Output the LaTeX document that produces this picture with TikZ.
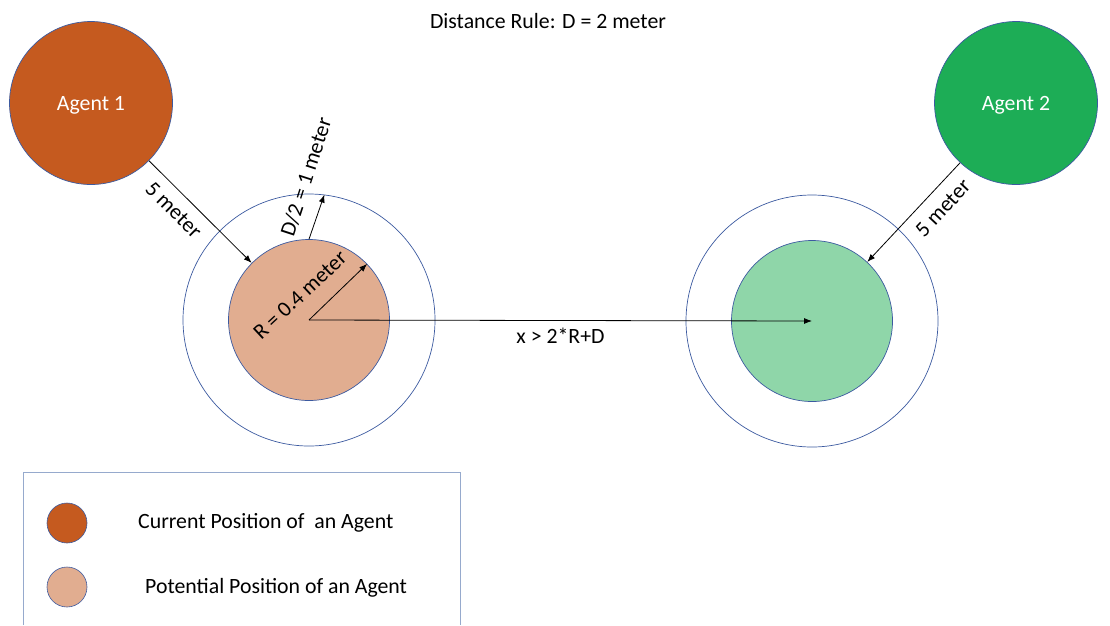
\documentclass[tikz,border=0pt]{standalone}
\usepackage{fontspec}
\setmainfont{Carlito}
\usepackage{xcolor}
\usetikzlibrary{arrows.meta, positioning, calc}

\definecolor{nowOrange}{RGB}{197,90,31}
\definecolor{nextOrange}{RGB}{225,173,144}
\definecolor{nowGreen}{RGB}{29,173,86}
\definecolor{nextGreen}{RGB}{143,214,169}
\definecolor{rimBlue}{RGB}{60,90,160}
\definecolor{boxBlue}{RGB}{150,170,205}

\begin{document}
\begin{tikzpicture}[
  x=1pt, y=-1pt,
  agent/.style={circle, draw=rimBlue, line width=0.7pt, inner sep=0pt, minimum size=163pt, text=white, text depth=0pt},
  spot/.style={circle, draw=rimBlue, line width=0.7pt, inner sep=0pt, minimum size=161pt},
  ring/.style={circle, draw=rimBlue, line width=0.7pt, inner sep=0pt, minimum size=252pt},
  key/.style={circle, draw=rimBlue, line width=0.6pt, inner sep=0pt, minimum size=40pt},
  lbl/.style={inner sep=2pt},
  >={Latex[length=8pt, width=6pt]},
  font=\fontsize{21.8}{26}\selectfont
]
  \useasboundingbox (0,0) rectangle (1110,625);

  \node (rule) at (548,21) {Distance Rule: D = 2 meter};

  \node[agent, fill=nowOrange] (agent1) at (91,103) {Agent 1};
  \node[agent, fill=nowGreen]  (agent2) at (1016,103) {Agent 2};

  \node[ring] (ring1) at (309,320) {};
  \node[ring] (ring2) at (812,321) {};
  \node[spot, fill=nextOrange] (spot1) at (309,320) {};
  \node[spot, fill=nextGreen]  (spot2) at (812,321) {};

  % moves towards the potential positions
  \draw[->, line width=0.8pt] (agent1) -- (spot1) node[lbl, sloped, below=8pt, pos=0.36] {5 meter};
  \draw[->, line width=0.8pt] (agent2) -- (spot2) node[lbl, sloped, below=9pt, pos=0.33] {5 meter};

  % radius and safety margin
  \draw[->, line width=0.8pt] (spot1.center) -- (spot1.44);
  \node[lbl, rotate=43] (rlabel) at (300,295) {R = 0.4 meter};
  \draw[->, line width=0.8pt] (spot1.north) -- (ring1.83);
  \node[lbl, rotate=72] (dlabel) at (306,177) {D/2 = 1 meter};

  \draw[->, line width=0.8pt] (spot1.center) -- (spot2.center) node[lbl, below=5pt, pos=0.5] {x > 2*R+D};

  % legend
  \draw[boxBlue, line width=0.8pt] (23,625) -- (23,472) -- (460,472) -- (460,625);
  \node[key, fill=nowOrange]  (key1) at (67,523) {};
  \node[key, fill=nextOrange] (key2) at (67,587) {};
  \node[lbl, anchor=west] (keytext1) at (136,523) {Current Position of\ \ an Agent};
  \node[lbl, anchor=west] (keytext2) at (143,588) {Potential Position of an Agent};
\end{tikzpicture}
\end{document}
